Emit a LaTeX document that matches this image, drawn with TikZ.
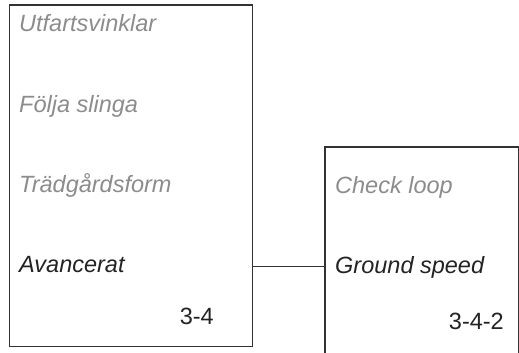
\documentclass[tikz,border=0pt]{standalone}
\usepackage{fontspec}
\setmainfont{Liberation Sans}
\definecolor{dimtext}{RGB}{140,140,140}
\definecolor{darktext}{RGB}{35,35,35}
\definecolor{frame}{RGB}{50,50,50}
\begin{document}
\begin{tikzpicture}[x=1pt,y=-1pt,
  boxline/.style={draw=frame,line width=1.2pt},
  menuitem/.style={anchor=base west,inner sep=0pt,font=\fontsize{23.5}{28}\selectfont\itshape},
  dimitem/.style={menuitem,text=dimtext},
  activeitem/.style={menuitem,text=darktext},
  pagenum/.style={anchor=base east,inner sep=0pt,font=\fontsize{23.5}{28}\selectfont,text=darktext},
  conn/.style={draw=frame,line width=1pt}]
\useasboundingbox (0,0) rectangle (519,353);
% left box
\node[boxline,rectangle,inner sep=0pt,minimum width=243pt,minimum height=341pt,anchor=north west] (lbox) at (8.5,4.5) {};
\node[dimitem] (u1) at (19,32) {Utfartsvinklar};
\node[dimitem] (u2) at (19,112) {Följa slinga};
\node[dimitem] (u3) at (19,192) {Trädgårdsform};
\node[activeitem] (u4) at (19,272) {Avancerat};
\node[pagenum] (p1) at (214,324.5) {3-4};
% right box (open at bottom, cut by the edge)
\coordinate (rbl) at (325,360);
\coordinate (rtl) at (325,147);
\coordinate (rtr) at (518.4,147);
\coordinate (rbr) at (518.4,360);
\draw[boxline] (rbl) -- (rtl) -- (rtr) -- (rbr);
\node[dimitem] (v1) at (335,193) {Check loop};
\node[activeitem] (v2) at (335,273) {Ground speed};
\node[pagenum] (p2) at (504,329.5) {3-4-2};
% connector
\coordinate (c1) at (251.5,266);
\coordinate (c2) at (325,266);
\draw[conn] (c1) -- (c2);
\end{tikzpicture}
\end{document}
